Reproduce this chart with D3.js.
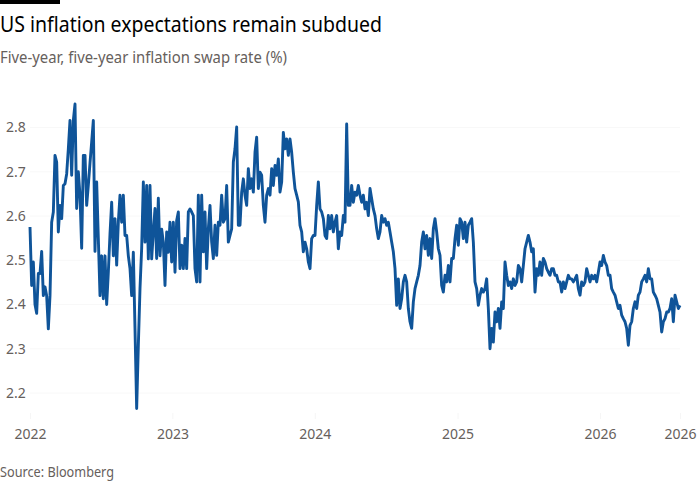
<!DOCTYPE html>
<html>
<head>
<meta charset="utf-8">
<script src="https://cdn.jsdelivr.net/npm/d3@7"></script>
<style>
  body { margin: 0; background: #fff; }
  svg { display: block; font-family: "Noto Sans", sans-serif; }
</style>
</head>
<body>
<svg id="chart"></svg>
<script>
// five-year, five-year inflation swap rate (%), sampled every ~4.3 days from Jan 2022
const startDate = new Date(2022, 0, 1);
const stepDays = 4.272;

const rate2022 = [2.575,2.443,2.496,2.40,2.38,2.47,2.47,2.52,2.42,2.44,2.42,2.345,2.42,2.586,2.609,2.737,2.722,2.564,2.624,2.594,
  2.669,2.673,2.695,2.752,2.816,2.692,2.816,2.853,2.617,2.70,2.647,2.527,2.737,2.737,2.624,2.67,2.72,2.767,2.816,2.52,
  2.677,2.549,2.42,2.51,2.413,2.51,2.40,2.473,2.56,2.631,2.51,2.594,2.489,2.586,2.647,2.586,2.647,2.556,2.556,2.51,
  2.481,2.42,2.518,2.345,2.165,2.308,2.436,2.527,2.677,2.541,2.669,2.503,2.669,2.503,2.564,2.617,2.504,2.64,2.51,2.57,
  2.541,2.443,2.564,2.518,2.586,2.496,2.586,2.473,2.59,2.609,2.481,2.534,2.481,2.549,2.481,2.609];
const rate2023 = [2.616,2.609,2.601,2.481,2.451,2.647,2.451,2.647,2.519,2.609,2.481,2.571,2.624,2.541,2.504,2.579,2.511,2.586,2.579,2.647,
  2.586,2.594,2.669,2.541,2.556,2.571,2.722,2.752,2.801,2.579,2.579,2.654,2.684,2.647,2.624,2.707,2.662,2.684,2.654,2.744,
  2.778,2.662,2.699,2.692,2.624,2.586,2.647,2.662,2.647,2.707,2.669,2.714,2.692,2.729,2.654,2.677,2.789,2.752,2.774,2.737,
  2.774,2.744,2.699,2.662,2.647,2.632,2.579,2.564,2.519,2.541,2.526,2.496,2.481,2.549,2.556,2.556,2.624,2.677,2.616,2.609,
  2.594,2.556,2.549,2.601,2.571,2.601,2.564,2.586,2.601,2.526,2.564,2.556,2.601,2.586,2.808,2.624];
const rate2024 = [2.624,2.669,2.631,2.654,2.647,2.669,2.647,2.631,2.647,2.616,2.631,2.601,2.662,2.639,2.616,2.601,2.571,2.549,2.564,2.601,
  2.586,2.594,2.579,2.586,2.564,2.541,2.519,2.481,2.398,2.458,2.391,2.413,2.451,2.466,2.451,2.391,2.361,2.346,2.406,2.436,
  2.451,2.466,2.488,2.541,2.564,2.526,2.556,2.511,2.549,2.504,2.571,2.594,2.564,2.526,2.511,2.443,2.428,2.466,2.451,2.488,
  2.451,2.504,2.504,2.549,2.579,2.534,2.594,2.586,2.549,2.586,2.541,2.579,2.586,2.594,2.541,2.451,2.436,2.398,2.421,2.436,
  2.428,2.436,2.458,2.391,2.300,2.346,2.315,2.383,2.361,2.391,2.346,2.406,2.391,2.496,2.466,2.443,2.451,2.436,2.458];
const rate2025 = [2.443,2.451,2.488,2.481,2.451,2.488,2.526,2.541,2.556,2.541,2.519,2.526,2.428,2.481,2.466,2.496,2.466,2.504,2.496,2.481,
  2.473,2.466,2.481,2.481,2.466,2.466,2.451,2.451,2.428,2.451,2.436,2.451,2.466,2.458,2.458,2.451,2.458,2.466,2.436,2.421,
  2.451,2.443,2.451,2.481,2.466,2.451,2.466,2.458,2.466,2.451,2.473,2.496,2.488,2.511,2.496,2.488,2.466,2.466,2.436,2.428,
  2.421,2.406,2.391,2.398,2.376,2.368,2.361,2.346,2.308,2.353,2.361,2.391,2.406,2.391,2.421,2.428,2.451,2.458,2.466,2.451,
  2.481,2.458,2.458,2.428,2.421,2.413,2.398,2.383,2.338,2.361,2.368,2.383,2.383,2.391,2.413,2.361,2.421,2.406,2.391,2.398];

const yTicks = [2.2, 2.3, 2.4, 2.5, 2.6, 2.7, 2.8];
const xTickYears = [2022, 2023, 2024, 2025, 2026];
const xTickLabels = ["2022", "2023", "2024", "2025", "2026", "2026"];

const titleText = "US inflation expectations remain subdued";
const subtitleText = "Five-year, five-year inflation swap rate (%)";
const sourceText = "Source: Bloomberg";

const values = rate2022.concat(rate2023, rate2024, rate2025);
const dayMs = 86400000;
const data = values.map((v, i) => ({date: new Date(startDate.getTime() + i * stepDays * dayMs), value: v}));

const width = 700, height = 500;
const svg = d3.select("#chart").attr("width", width).attr("height", height);

function fitWidth(sel, w) {
    let len = sel.node().getComputedTextLength();
    if (Math.abs(len - w) / w > 0.03) {
        sel.attr("textLength", w).attr("lengthAdjust", "spacingAndGlyphs");
    }
}

// top bar + headings
svg.append("rect").attr("x", 0).attr("y", 0).attr("width", 60).attr("height", 4).attr("fill", "#000");
let title = svg.append("text").attr("x", 0).attr("y", 32)
    .attr("font-size", 22).attr("fill", "#000").text(titleText);
fitWidth(title, 382);
let subtitle = svg.append("text").attr("x", 0).attr("y", 63)
    .attr("font-size", 15.5).attr("fill", "#66605c").text(subtitleText);
fitWidth(subtitle, 287);

let x = d3.scaleTime()
    .domain([new Date(2022, 0, 1), new Date(2026, 0, 1)])
    .range([30, 600]);
let y = d3.scaleLinear().domain([2.2, 2.8]).range([393, 127.5]);

// gridlines (barely visible in the original) + y labels
let grid = svg.append("g");
grid.selectAll("line").data(yTicks).enter().append("line")
    .attr("x1", 30).attr("x2", 680)
    .attr("y1", d => y(d)).attr("y2", d => y(d))
    .attr("stroke", "#f8f8f8").attr("stroke-width", 1);
svg.append("g").selectAll("text").data(yTicks).enter().append("text")
    .attr("x", 6).attr("y", d => y(d)).attr("dy", "0.35em")
    .attr("font-size", 14).attr("fill", "#66605c")
    .text(d => d.toFixed(1));

// x axis labels
let lastDate = data[data.length - 1].date;
let xTickDates = xTickYears.map(yr => new Date(yr, 0, 1)).concat([lastDate]);
let xAxis = d3.axisBottom(x)
    .tickValues(xTickDates)
    .tickSize(6)
    .tickPadding(10)
    .tickFormat((d, i) => xTickLabels[i]);
let xg = svg.append("g").attr("transform", "translate(0,413)").call(xAxis);
xg.select(".domain").remove();
xg.selectAll(".tick line").attr("stroke", "#f6f6f6");
xg.selectAll(".tick text")
    .attr("font-family", "Noto Sans, sans-serif")
    .attr("font-size", 14).attr("fill", "#66605c");

// the line
let line = d3.line().x(d => x(d.date)).y(d => y(d.value));
svg.append("path").datum(data)
    .attr("d", line)
    .attr("fill", "none")
    .attr("stroke", "#0f5499")
    .attr("stroke-width", 2.9)
    .attr("stroke-linejoin", "round");

let source = svg.append("text").attr("x", 0).attr("y", 477)
    .attr("font-size", 13.5).attr("fill", "#66605c").text(sourceText);
fitWidth(source, 114);
</script>
</body>
</html>
